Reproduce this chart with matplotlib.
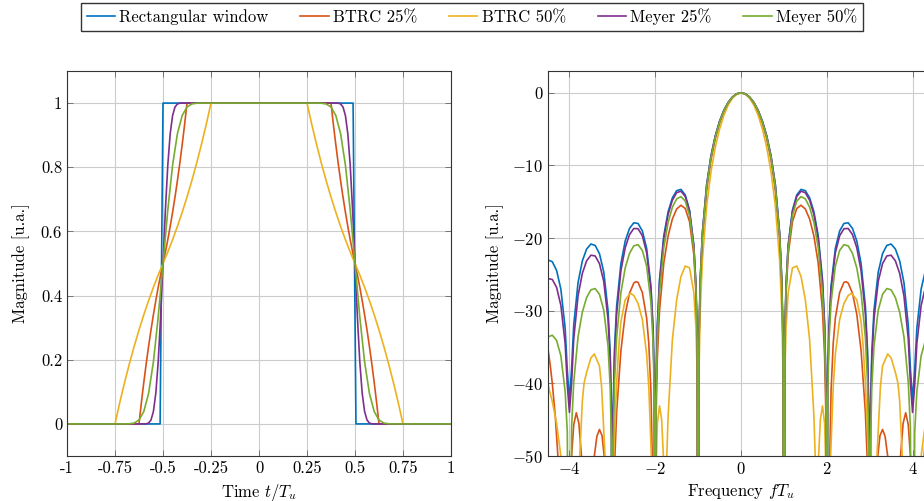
import numpy as np
import matplotlib
matplotlib.use("Agg")
import matplotlib.pyplot as plt

plt.rcParams.update({
    "font.family": "serif",
    "font.serif": ["cmr10"],
    "mathtext.fontset": "cm",
    "axes.formatter.use_mathtext": True,
    "font.size": 12,
})

labels = ["Rectangular window", "BTRC 25%", "BTRC 50%", "Meyer 25%", "Meyer 50%"]
colors = ["#0072BD", "#D95319", "#EDB120", "#7E2F8E", "#77AC30"]

# ---- time domain windows
t_rect = [-1, -0.515, -0.5, 0.49, 0.505, 1]
w_rect = [0, 0, 1, 1, 0, 0]

t_btrc25 = [-1, -0.625, -0.6125, -0.6, -0.5875, -0.575, -0.5625, -0.55, -0.5375, -0.525, -0.5125,
            -0.5, -0.4875, -0.475, -0.4625, -0.45, -0.4375, -0.425, -0.4125, -0.4, -0.3875, -0.375,
            0.375, 0.3875, 0.4, 0.4125, 0.425, 0.4375, 0.45, 0.4625, 0.475, 0.4875, 0.5,
            0.5125, 0.525, 0.5375, 0.55, 0.5625, 0.575, 0.5875, 0.6, 0.6125, 0.625, 1]
w_btrc25 = [0, 0, 0.067, 0.1294, 0.1877, 0.2421, 0.2929, 0.3402, 0.3844, 0.4257, 0.4641,
            0.5, 0.5359, 0.5743, 0.6156, 0.6598, 0.7071, 0.7579, 0.8123, 0.8706, 0.933, 1,
            1, 0.933, 0.8706, 0.8123, 0.7579, 0.7071, 0.6598, 0.6156, 0.5743, 0.5359, 0.5,
            0.4641, 0.4257, 0.3844, 0.3402, 0.2929, 0.2421, 0.1877, 0.1294, 0.067, 0, 0]

t_btrc50 = [-1, -0.75, -0.725, -0.7, -0.675, -0.65, -0.625, -0.6, -0.575, -0.55, -0.525,
            -0.5, -0.475, -0.45, -0.425, -0.4, -0.375, -0.35, -0.325, -0.3, -0.275, -0.25,
            0.25, 0.275, 0.3, 0.325, 0.35, 0.375, 0.4, 0.425, 0.45, 0.475, 0.5,
            0.525, 0.55, 0.575, 0.6, 0.625, 0.65, 0.675, 0.7, 0.725, 0.75, 1]
w_btrc50 = [0, 0, 0.067, 0.1294, 0.1877, 0.2421, 0.2929, 0.3402, 0.3844, 0.4257, 0.4641,
            0.5, 0.5359, 0.5743, 0.6156, 0.6598, 0.7071, 0.7579, 0.8123, 0.8706, 0.933, 1,
            1, 0.933, 0.8706, 0.8123, 0.7579, 0.7071, 0.6598, 0.6156, 0.5743, 0.5359, 0.5,
            0.4641, 0.4257, 0.3844, 0.3402, 0.2929, 0.2421, 0.1877, 0.1294, 0.067, 0, 0]

t_meyer25 = [-1, -0.6, -0.5875, -0.575, -0.5625, -0.55, -0.5375, -0.525, -0.5125, -0.5,
             -0.4875, -0.475, -0.4625, -0.45, -0.4375, -0.425, -0.4125, -0.4,
             0.4, 0.4125, 0.425, 0.4375, 0.45, 0.4625, 0.475, 0.4875, 0.5,
             0.5125, 0.525, 0.5375, 0.55, 0.5625, 0.575, 0.5875, 0.6, 1]
w_meyer25 = [0, 0, 0.0004, 0.0027, 0.0122, 0.0387, 0.0953, 0.1932, 0.3331, 0.5,
             0.6669, 0.8068, 0.9047, 0.9613, 0.9878, 0.9973, 0.9996, 1,
             1, 0.9996, 0.9973, 0.9878, 0.9613, 0.9047, 0.8068, 0.6669, 0.5,
             0.3331, 0.1932, 0.0953, 0.0387, 0.0122, 0.0027, 0.0004, 0, 0]

t_meyer50 = [-1, -0.7, -0.675, -0.65, -0.625, -0.6, -0.575, -0.55, -0.525, -0.5,
             -0.475, -0.45, -0.425, -0.4, -0.375, -0.35, -0.325, -0.3,
             0.3, 0.325, 0.35, 0.375, 0.4, 0.425, 0.45, 0.475, 0.5,
             0.525, 0.55, 0.575, 0.6, 0.625, 0.65, 0.675, 0.7, 1]
w_meyer50 = [0, 0, 0.0004, 0.0027, 0.0122, 0.0387, 0.0953, 0.1932, 0.3331, 0.5,
             0.6669, 0.8068, 0.9047, 0.9613, 0.9878, 0.9973, 0.9996, 1,
             1, 0.9996, 0.9973, 0.9878, 0.9613, 0.9047, 0.8068, 0.6669, 0.5,
             0.3331, 0.1932, 0.0953, 0.0387, 0.0122, 0.0027, 0.0004, 0, 0]

# ---- spectra, positive half (f >= 0), dB; the plot is symmetric in f
f_std = [0, 0.1, 0.2, 0.3, 0.4, 0.5, 0.6, 0.7, 0.8, 0.9, 0.95, 0.98, 1.0,
         1.02, 1.05, 1.1, 1.2, 1.3, 1.4, 1.5, 1.6, 1.7, 1.8, 1.9, 1.95, 1.98, 2.0,
         2.02, 2.05, 2.1, 2.2, 2.3, 2.4, 2.5, 2.6, 2.7, 2.8, 2.9, 2.95, 2.98, 3.0,
         3.02, 3.05, 3.1, 3.2, 3.3, 3.4, 3.5, 3.6, 3.7, 3.8, 3.9, 3.95, 4.0,
         4.05, 4.1, 4.2, 4.3, 4.4, 4.5]
db_rect = [0, -0.14, -0.58, -1.33, -2.42, -3.92, -5.94, -8.69, -12.63, -19.23, -25.61, -33.81, -100,
           -34.16, -26.48, -20.97, -16.15, -14.06, -13.30, -13.47, -14.46, -16.39, -19.67, -25.72, -31.85, -39.92, -100,
           -40.09, -32.29, -26.59, -21.41, -19.02, -17.99, -17.90, -18.68, -20.41, -23.51, -29.39, -35.45, -43.47, -100,
           -43.58, -35.74, -29.97, -24.67, -22.15, -21.01, -20.82, -21.51, -23.15, -26.16, -31.96, -37.98, -42.3,
           -38.20, -32.40, -27.03, -24.45, -23.25, -23.01]
db_meyer25 = [0, -0.14, -0.59, -1.34, -2.44, -3.95, -5.99, -8.75, -12.71, -19.33, -25.72, -33.93, -100,
              -34.29, -26.62, -21.12, -16.33, -14.27, -13.55, -13.75, -14.78, -16.75, -20.08, -26.18, -32.33, -40.41, -100,
              -40.60, -32.82, -27.14, -22.02, -19.68, -18.71, -18.68, -19.53, -21.33, -24.49, -30.45, -36.54, -44.58, -100,
              -44.73, -36.91, -31.18, -25.96, -23.52, -22.46, -22.36, -23.14, -24.87, -27.98, -33.88, -39.95, -44.0,
              -40.27, -34.52, -29.26, -26.78, -25.70, -25.57]
db_meyer50 = [0, -0.15, -0.60, -1.38, -2.50, -4.05, -6.12, -8.94, -12.95, -19.64, -26.06, -34.29, -100,
              -34.68, -27.03, -21.58, -16.87, -14.91, -14.29, -14.60, -15.75, -17.85, -21.30, -27.54, -33.77, -41.90, -100,
              -42.15, -34.41, -28.82, -23.86, -21.70, -20.91, -21.07, -22.12, -24.12, -27.50, -33.68, -39.89, -48.01, -100,
              -48.24, -40.49, -34.89, -29.91, -27.74, -26.95, -27.12, -28.19, -30.22, -33.62, -39.84, -46.07, -100,
              -46.72, -41.13, -36.21, -34.09, -33.37, -33.61]

f_btrc25 = [0, 0.1, 0.2, 0.3, 0.4, 0.5, 0.6, 0.7, 0.8, 0.9, 0.95, 0.98, 1.0,
            1.02, 1.05, 1.1, 1.2, 1.3, 1.4, 1.5, 1.6, 1.7, 1.8, 1.9, 1.95, 1.98, 2.0,
            2.07, 2.1, 2.15, 2.2, 2.3, 2.4, 2.45, 2.5, 2.6, 2.7, 2.8, 2.9, 2.94, 3.0,
            3.1, 3.19, 3.24, 3.3, 3.36, 3.42, 3.5, 3.6, 3.72, 3.78, 3.84, 3.9, 3.95, 4.0,
            4.15, 4.27, 4.33, 4.4, 4.45, 4.5]
db_btrc25 = [0, -0.15, -0.62, -1.42, -2.59, -4.19, -6.32, -9.22, -13.32, -20.10, -26.58, -34.85, -100,
             -35.28, -27.65, -22.29, -17.73, -15.93, -15.48, -16.00, -17.37, -19.72, -23.44, -29.99, -36.38, -44.61, -100,
             -50, -41, -34.5, -31, -27.5, -26.1, -26.0, -26.2, -27.6, -30.5, -35.5, -44, -50, -100,
             -60, -50, -47.2, -46.35, -47.3, -50, -58, -70, -50, -45.5, -44.05, -45.7, -50, -100,
             -70, -50, -44.5, -40, -37.4, -35.3]

f_btrc50 = [0, 0.1, 0.2, 0.3, 0.4, 0.5, 0.6, 0.7, 0.8, 0.9, 0.95, 0.98, 1.0,
            1.02, 1.05, 1.1, 1.2, 1.3, 1.4, 1.5, 1.6, 1.7, 1.73, 1.77,
            1.81, 1.85, 1.9, 1.95, 1.98, 2.0,
            2.09, 2.15, 2.2, 2.3, 2.4, 2.5, 2.58, 2.7, 2.8, 2.85, 2.9, 2.95, 2.97, 3.0,
            3.1, 3.17, 3.25, 3.3, 3.42, 3.5, 3.6, 3.66, 3.7, 3.76, 3.85, 4.05,
            4.2, 4.3, 4.4, 4.5]
db_btrc50 = [0, -0.18, -0.75, -1.71, -3.11, -5.00, -7.52, -10.87, -15.54, -23.00, -29.9, -38.4, -100,
             -39.2, -32.4, -27.5, -24.1, -23.85, -25.3, -28.5, -34.0, -44.5, -50, -100,
             -50, -45, -43.1, -45.5, -52, -100,
             -50, -40.5, -36, -31.2, -29, -27.9, -27.6, -28.5, -31.5, -35, -40, -47, -50, -100,
             -60, -50, -40.5, -37.6, -35.95, -36.5, -38.5, -40, -42.5, -50, -60, -100,
             -50, -45.5, -42.5, -40.2]


def mirror(f, db):
    f = np.asarray(f, dtype=float)
    db = np.asarray(db, dtype=float)
    return np.concatenate([-f[:0:-1], f]), np.concatenate([db[:0:-1], db])


time_data = [(t_rect, w_rect), (t_btrc25, w_btrc25), (t_btrc50, w_btrc50),
             (t_meyer25, w_meyer25), (t_meyer50, w_meyer50)]
spec_data = [(f_std, db_rect), (f_btrc25, db_btrc25), (f_btrc50, db_btrc50),
             (f_std, db_meyer25), (f_std, db_meyer50)]

fig = plt.figure(figsize=(9.24, 5.01), dpi=100)
ax1 = fig.add_axes([67 / 924, 1 - 456 / 501, 384 / 924, 385 / 501])
ax2 = fig.add_axes([548 / 924, 1 - 456 / 501, 386 / 924, 385 / 501])

handles = []
for (t, w), c, lab in zip(time_data, colors, labels):
    h, = ax1.plot(t, w, color=c, lw=1.2, label=lab)
    handles.append(h)

for (f, db), c in zip(spec_data, colors):
    ff, dd = mirror(f, db)
    ax2.plot(ff, dd, color=c, lw=1.2)

ax1.set_xlim(-1, 1)
ax1.set_ylim(-0.1, 1.1)
ax1.set_xticks([-1, -0.75, -0.5, -0.25, 0, 0.25, 0.5, 0.75, 1])
ax1.set_xticklabels(["-1", "-0.75", "-0.5", "-0.25", "0", "0.25", "0.5", "0.75", "1"])
ax1.set_yticks([0, 0.2, 0.4, 0.6, 0.8, 1])
ax1.set_yticklabels(["0", "0.2", "0.4", "0.6", "0.8", "1"])
ax1.set_xlabel("Time $t/T_u$")
ax1.set_ylabel("Magnitude [u.a.]")
ax1.yaxis.set_label_coords(-36.5 / 384, 0.5)

ax2.set_xlim(-4.5, 4.5)
ax2.set_ylim(-50, 3)
ax2.set_xticks([-4, -2, 0, 2, 4])
ax2.set_yticks([0, -10, -20, -30, -40, -50])
ax2.set_xlabel("Frequency $fT_u$")
ax2.set_ylabel("Magnitude [u.a.]")
ax2.yaxis.set_label_coords(-44.3 / 386, 0.5)

for ax in (ax1, ax2):
    ax.grid(True, color="#cccccc", lw=0.8)
    ax.set_axisbelow(True)
    ax.tick_params(direction="in", top=True, right=True, length=4, width=0.6,
                   color="#666666", labelsize=12)
    for s in ax.spines.values():
        s.set_color("#333333")
        s.set_linewidth(0.8)

fig.legend(handles, labels, loc="upper center", bbox_to_anchor=(472 / 924, 1 - 2.7 / 501),
           ncol=5, frameon=True, fancybox=False, edgecolor="#333333", framealpha=1,
           handlelength=1.7, handletextpad=0.26, columnspacing=1.9, borderpad=0.35,
           borderaxespad=0, fontsize=12)

fig.savefig("out.png", dpi=100)
